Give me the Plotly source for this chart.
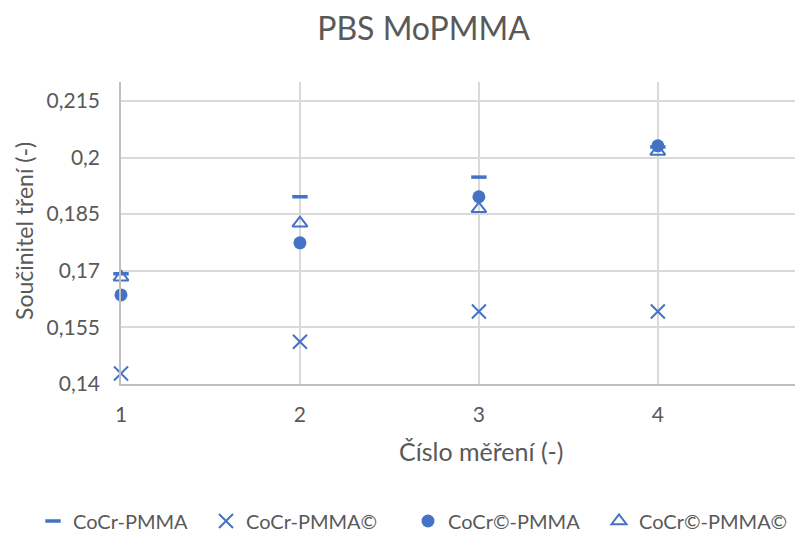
import plotly.graph_objects as go

measurements = [1, 2, 3, 4]
cocr_pmma = [0.1692, 0.1896, 0.1948, 0.2028]
cocr_pmma_c = [0.1428, 0.1512, 0.1592, 0.1592]
cocrc_pmma = [0.1636, 0.1774, 0.1896, 0.2031]
cocrc_pmma_c = [0.1683, 0.1826, 0.1864, 0.2016]

y_ticks = [0.14, 0.155, 0.17, 0.185, 0.2, 0.215]
y_ticktext = ["0,14", "0,155", "0,17", "0,185", "0,2", "0,215"]
x_ticks = [1, 2, 3, 4]

color = "#4472C4"
text_color = "#595959"
font_family = "Lato, 'Open Sans', sans-serif"

W, H = 795, 525  # page adds an 8px body margin

fig = go.Figure()
fig.add_trace(go.Scatter(x=measurements, y=cocr_pmma, mode="markers", name="CoCr-PMMA",
                         legend="legend", cliponaxis=False,
                         marker=dict(symbol="line-ew", size=11, color=color,
                                     line=dict(color=color, width=3.5))))
fig.add_trace(go.Scatter(x=measurements, y=cocr_pmma_c, mode="markers", name="CoCr-PMMA©",
                         legend="legend2", cliponaxis=False,
                         marker=dict(symbol="x-thin", size=14, color=color,
                                     line=dict(color=color, width=2))))
fig.add_trace(go.Scatter(x=measurements, y=cocrc_pmma, mode="markers", name="CoCr©-PMMA",
                         legend="legend3", cliponaxis=False,
                         marker=dict(symbol="circle", size=13, color=color,
                                     line=dict(color=color, width=0))))
fig.add_trace(go.Scatter(x=measurements, y=cocrc_pmma_c, mode="markers", name="CoCr©-PMMA©",
                         legend="legend4", cliponaxis=False,
                         marker=dict(symbol="triangle-up-open", size=13, color=color,
                                     line=dict(color=color, width=2))))

def leg(px):
    return dict(orientation="h", xref="container", yref="container",
                x=(px - 8) / W, xanchor="left",
                y=1 - (521 - 8) / H, yanchor="middle",
                font=dict(size=20, color=text_color),
                bgcolor="rgba(0,0,0,0)", itemwidth=30)

fig.update_layout(
    width=W, height=H,
    paper_bgcolor="white", plot_bgcolor="white",
    margin=dict(l=113, r=2, t=74, b=149, autoexpand=False),
    font=dict(family=font_family, color=text_color, size=20),
    title=dict(text="PBS MoPMMA", x=(423.5 - 8) / W, xref="container", xanchor="center",
               y=1 - (29 - 8) / H, yref="container", yanchor="middle",
               font=dict(size=32, color=text_color)),
    showlegend=True,
    legend=leg(33), legend2=leg(206), legend3=leg(408), legend4=leg(599),
    xaxis=dict(range=[1, 4.8], tickvals=x_ticks, ticktext=[str(v) for v in x_ticks],
               showgrid=True, gridcolor="#d9d9d9", gridwidth=1.5,
               showline=True, linecolor="#bfbfbf", linewidth=1.5,
               zeroline=False, ticks="outside", ticklen=11, tickcolor="rgba(0,0,0,0)",
               tickfont=dict(size=21)),
    yaxis=dict(range=[0.14, 0.22], tickvals=y_ticks, ticktext=y_ticktext,
               showgrid=True, gridcolor="#d9d9d9", gridwidth=1.5,
               showline=True, linecolor="#bfbfbf", linewidth=1.5,
               zeroline=False, ticks="outside", ticklen=15, tickcolor="rgba(0,0,0,0)",
               tickfont=dict(size=21)),
    annotations=[
        dict(text="Číslo měření (-)", xref="paper", yref="paper",
             x=(481 - 121) / 680, y=(384 - 451) / 302, xanchor="center", yanchor="middle",
             showarrow=False, font=dict(size=25, color=text_color)),
        dict(text="Součinitel tření (-)", xref="paper", yref="paper", textangle=-90,
             x=(24 - 121) / 680, y=(384 - 231) / 302, xanchor="center", yanchor="middle",
             showarrow=False, font=dict(size=23, color=text_color)),
    ],
)

fig.write_html("out.html")
